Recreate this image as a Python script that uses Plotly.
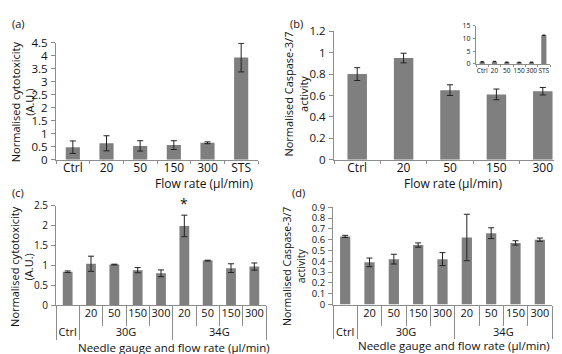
import plotly.graph_objects as go

W, H = 562, 354
FONT = "Open Sans"
BAR = "#7f7f7f"
AX = "#8c8c8c"

# Panel (a)
a_cats = ["Ctrl", "20", "50", "150", "300", "STS"]
a_vals = [0.48, 0.63, 0.53, 0.56, 0.65, 3.93]
a_err = [0.24, 0.29, 0.20, 0.17, 0.035, 0.55]
a_ticks = [0, 0.5, 1, 1.5, 2, 2.5, 3, 3.5, 4, 4.5]

# Panel (b)
b_cats = ["Ctrl", "20", "50", "150", "300"]
b_vals = [0.80, 0.95, 0.65, 0.61, 0.64]
b_err = [0.06, 0.045, 0.05, 0.05, 0.035]
b_ticks = [0, 0.2, 0.4, 0.6, 0.8, 1, 1.2]

# Inset of (b)
i_cats = ["Ctrl", "20", "50", "150", "300", "STS"]
i_vals = [0.80, 0.95, 0.65, 0.61, 0.64, 11.2]
i_err = [0.06, 0.045, 0.05, 0.05, 0.035, 0.1]
i_ticks = [0, 5, 10, 15]

# Panels (c), (d)
cd_outer = ["Ctrl", "30G", "30G", "30G", "30G", "34G", "34G", "34G", "34G"]
cd_inner = [" ", "20", "50", "150", "300", "20", "50", "150", "300"]
c_vals = [0.84, 1.04, 1.02, 0.88, 0.80, 1.99, 1.12, 0.93, 0.97]
c_err = [0.02, 0.19, 0.01, 0.065, 0.085, 0.27, 0.01, 0.11, 0.09]
c_ticks = [0, 0.5, 1, 1.5, 2, 2.5]
d_vals = [0.63, 0.39, 0.42, 0.55, 0.42, 0.62, 0.66, 0.57, 0.60]
d_err = [0.01, 0.04, 0.045, 0.02, 0.06, 0.215, 0.05, 0.02, 0.015]
d_ticks = [0, 0.1, 0.2, 0.3, 0.4, 0.5, 0.6, 0.7, 0.8, 0.9]

flow_title = "Flow rate (µl/min)"
gauge_title = "Needle gauge and flow rate (µl/min)"
cyto_title = "Normalised cytotoxicity<br>(A.U.)"
casp_title = "Normalised Caspase-3/7<br>activity"


def px_x(p):
    return p / W


def px_y(p):
    return 1 - p / H


def bar(x, y, err, xa, ya, ew=1, cw=3):
    return go.Bar(
        x=x, y=y, xaxis=xa, yaxis=ya, marker=dict(color=BAR, line=dict(width=0)),
        error_y=dict(type="data", array=err, visible=True, color="#222222",
                     thickness=ew, width=cw),
        showlegend=False, hoverinfo="skip",
    )


fig = go.Figure()
fig.add_trace(bar(a_cats, a_vals, a_err, "x", "y"))
fig.add_trace(bar(b_cats, b_vals, b_err, "x2", "y2"))
fig.add_trace(bar(i_cats, i_vals, i_err, "x5", "y5", ew=1, cw=1.5))
fig.add_trace(bar([cd_outer, cd_inner], c_vals, c_err, "x3", "y3"))
fig.add_trace(bar([cd_outer, cd_inner], d_vals, d_err, "x4", "y4"))


def yax(dom, rng, ticks, size, anchor):
    return dict(domain=dom, range=rng, tickvals=ticks, showline=True, linecolor=AX,
                linewidth=1, ticks="outside", ticklen=4, tickcolor=AX, showgrid=False,
                zeroline=False, tickfont=dict(size=size, color="#111"), anchor=anchor,
                ticklabelstandoff=1)


def xax(dom, size, anchor, ticklen=3, standoff=0):
    return dict(domain=dom, showline=True, linecolor=AX, linewidth=1, ticks="outside",
                ticklen=ticklen, tickcolor=AX, tickson="boundaries", showgrid=False,
                zeroline=False, tickfont=dict(size=size, color="#111"), anchor=anchor,
                fixedrange=True, tickangle=0, ticklabelstandoff=standoff)


fig.update_layout(
    width=W, height=H, margin=dict(l=0, r=0, t=0, b=0),
    paper_bgcolor="white", plot_bgcolor="white",
    font=dict(family=FONT, color="#111"),
    bargap=0.58,
    xaxis=xax([px_x(48), px_x(250)], 12, "y", standoff=-3),
    yaxis=yax([px_y(150), px_y(28)], [0, 4.5], a_ticks, 11.5, "x"),
    xaxis2=xax([px_x(326), px_x(558)], 12, "y2", standoff=-3),
    yaxis2=yax([px_y(150), px_y(16)], [0, 1.2], b_ticks, 11.5, "x2"),
    xaxis3=dict(xax([px_x(48), px_x(258)], 11, "y3", ticklen=20, standoff=-2),
                dividercolor=AX, dividerwidth=1),
    yaxis3=yax([px_y(302), px_y(198)], [0, 2.5], c_ticks, 10, "x3"),
    xaxis4=dict(xax([px_x(325), px_x(544)], 11, "y4", ticklen=20, standoff=-2),
                dividercolor=AX, dividerwidth=1),
    yaxis4=yax([px_y(301.3), px_y(199.7)], [0, 0.9], d_ticks, 9.5, "x4"),
    xaxis5=dict(xax([px_x(468), px_x(542)], 6.5, "y5", ticklen=2)),
    yaxis5=dict(yax([px_y(50), px_y(10)], [0, 15], i_ticks, 7, "x5"), ticklen=2),
)

ann = []


def note(text, x, y, size, angle=0, xanchor="center"):
    ann.append(dict(text=text, x=px_x(x), y=px_y(y), xref="paper", yref="paper",
                    showarrow=False, font=dict(size=size, family=FONT, color="#111"),
                    textangle=angle, xanchor=xanchor, yanchor="middle"))


note("(a)", 2, 8, 11, xanchor="left")
note("(b)", 280, 8, 11, xanchor="left")
note("(c)", 2, 184, 11, xanchor="left")
note("(d)", 282, 184, 11, xanchor="left")
note(flow_title, 196, 175, 12)
note(flow_title, 445, 175, 12)
note(gauge_title, 166, 346, 11.5)
note(gauge_title, 446, 344, 11.5)
note(cyto_title, 14, 90, 11, angle=-90)
note(casp_title, 288, 82, 11, angle=-90)
note(cyto_title, 14, 262, 11, angle=-90)
note(casp_title, 286, 262, 10.5, angle=-90)
ann.append(dict(text="*", x=[cd_outer[5], cd_inner[5]], y=c_vals[5] + c_err[5],
                xref="x3", yref="y3", showarrow=False, yanchor="bottom",
                font=dict(size=14, family=FONT, color="#111")))
fig.update_layout(annotations=ann)

fig.write_html("out.html")
